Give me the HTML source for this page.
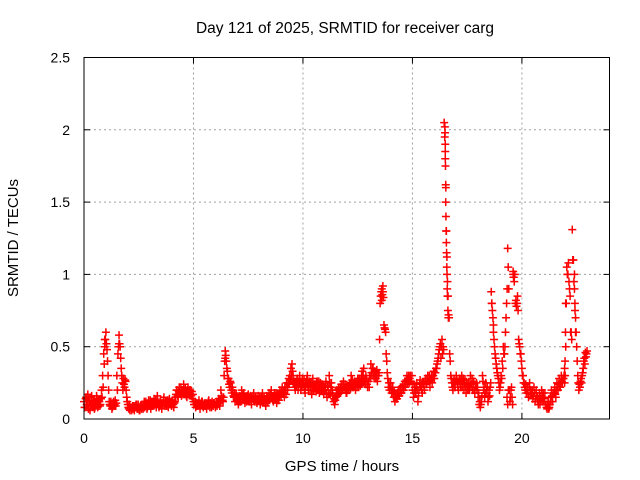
<!DOCTYPE html>
<html><head><meta charset="utf-8"><style>
html,body{margin:0;padding:0;background:#fff;}
svg{display:block;font-family:"Liberation Sans",sans-serif;}
</style></head><body>
<svg id="chart" width="640" height="480" viewBox="0 0 640 480">
<rect width="640" height="480" fill="#fff"/>
<text x="345" y="33" font-size="15.5" text-anchor="middle">Day 121 of 2025, SRMTID for receiver carg</text>
<text x="342" y="471" font-size="15" text-anchor="middle">GPS time / hours</text>
<text transform="translate(18,238) rotate(-90)" font-size="15" text-anchor="middle">SRMTID / TECUs</text>
<g id="grid"></g><g id="marks"></g><g id="axes"></g>
</svg>
<script>
const xTicks = [0,5,10,15,20];
const yTicks = [0,0.5,1,1.5,2,2.5];
const yTickLabels = ["0","0.5","1","1.5","2","2.5"];
const baseStart = 0;
const baseStep = 0.05;
const baseValues = [
.12,.08,.15,.1,.07,.13,.1,.16,.09,.11,.08,.1,.14,.09,.12,.1,.2,.3,.45,.5,
.6,.48,.3,.12,.09,.1,.08,.12,.1,.09,.3,.45,.58,.5,.35,.25,.28,.22,.26,.15,
.1,.07,.06,.08,.07,.09,.06,.08,.1,.07,.08,.06,.09,.1,.07,.12,.09,.1,.08,.13,
.1,.07,.12,.09,.14,.1,.08,.16,.11,.09,.13,.07,.1,.15,.09,.12,.1,.08,.14,.1,
.09,.13,.08,.12,.17,.2,.15,.22,.18,.16,.2,.24,.17,.19,.15,.22,.18,.2,.16,.14,
.12,.1,.08,.11,.09,.13,.07,.1,.12,.08,.11,.09,.07,.1,.13,.08,.1,.12,.09,.11,
.08,.12,.1,.14,.09,.2,.15,.12,.3,.47,.4,.33,.28,.22,.25,.18,.2,.15,.12,.17,
.13,.1,.16,.12,.2,.14,.18,.11,.15,.13,.17,.12,.16,.1,.14,.18,.12,.15,.11,.16,
.13,.1,.15,.18,.12,.14,.09,.16,.12,.18,.14,.2,.16,.12,.18,.15,.11,.17,.13,.2,
.16,.22,.18,.15,.2,.25,.2,.28,.3,.35,.38,.3,.26,.2,.23,.28,.22,.3,.2,.25,
.22,.27,.18,.24,.3,.2,.25,.22,.17,.28,.2,.24,.19,.26,.22,.18,.25,.2,.23,.17,
.2,.26,.15,.22,.3,.18,.25,.2,.12,.1,.15,.2,.17,.22,.18,.24,.2,.26,.22,.2,
.18,.23,.2,.25,.3,.27,.22,.26,.2,.24,.28,.22,.27,.25,.33,.3,.26,.24,.28,.22,
.26,.3,.38,.3,.35,.28,.32,.3,.26,.3,.55,.85,.9,.88,.65,.62,.45,.32,.22,.2,
.25,.18,.22,.15,.12,.17,.14,.2,.16,.22,.18,.23,.2,.26,.24,.3,.28,.25,.3,.26,
.2,.15,.22,.18,.25,.12,.2,.27,.22,.18,.25,.2,.28,.24,.3,.26,.22,.28,.25,.3,
.28,.32,.35,.4,.45,.5,.42,.55,.5,2.05,1.8,1.3,.95,.72,.45,.3,.25,.2,.28,.22,
.3,.25,.2,.28,.22,.3,.25,.2,.27,.18,.22,.25,.2,.3,.24,.2,.26,.18,.22,.2,
.15,.1,.08,.12,.3,.2,.15,.25,.18,.12,.2,.22,.88,.75,.6,.5,.42,.35,.3,.25,
.22,.3,.4,.5,.45,.6,.8,1.18,.9,.12,.2,.15,1.0,.95,.8,.78,.85,.55,.5,.45,
.35,.3,.25,.2,.18,.22,.15,.25,.2,.18,.14,.22,.12,.2,.16,.1,.18,.13,.2,.15,
.12,.18,.1,.07,.12,.08,.15,.2,.12,.18,.22,.15,.25,.2,.28,.22,.3,.25,.28,.35,
.5,1.05,1.0,.95,.85,.6,1.31,1.1,.9,.7,.5,.3,.2,.22,.28,.3,.35,.42,.46,.45
];
const spreadValues = [
.08,.14,.1,.17,.12,.06,.15,.1,.13,.07,.12,.16,.08,.13,.09,.14,.15,.22,.38,.55,
.52,.4,.2,.1,.12,.07,.11,.09,.13,.11,.2,.5,.52,.42,.3,.2,.24,.27,.2,.12,
.08,.1,.08,.06,.09,.07,.09,.1,.07,.1,.06,.09,.07,.08,.1,.08,.12,.07,.11,.09,
.13,.09,.1,.12,.1,.13,.11,.12,.08,.12,.1,.11,.13,.1,.12,.09,.13,.11,.1,.12,
.12,.1,.11,.15,.2,.16,.19,.18,.22,.2,.17,.19,.21,.16,.2,.18,.2,.17,.19,.17,
.1,.12,.1,.09,.11,.1,.1,.12,.09,.1,.09,.11,.1,.12,.09,.11,.08,.1,.11,.1,
.1,.09,.12,.11,.13,.16,.13,.15,.4,.44,.35,.28,.24,.26,.2,.22,.16,.18,.15,.13,
.15,.13,.12,.15,.16,.17,.13,.14,.12,.16,.13,.15,.12,.14,.16,.13,.15,.12,.14,.13,
.15,.13,.12,.14,.15,.11,.14,.12,.15,.13,.17,.15,.13,.16,.14,.18,.15,.13,.16,.17,
.19,.18,.2,.22,.17,.22,.25,.24,.27,.3,.33,.25,.22,.25,.27,.2,.26,.24,.22,.28,
.25,.2,.23,.27,.22,.26,.2,.25,.23,.2,.24,.21,.25,.2,.26,.22,.2,.24,.19,.22,
.23,.18,.22,.17,.25,.22,.2,.16,.14,.13,.18,.16,.21,.18,.22,.2,.24,.21,.24,.18,
.22,.2,.24,.21,.25,.22,.25,.23,.24,.22,.25,.28,.23,.3,.28,.35,.28,.3,.24,.26,
.22,.28,.32,.35,.3,.33,.28,.34,.3,.32,.8,.88,.86,.84,.63,.6,.4,.28,.25,.22,
.2,.22,.18,.19,.15,.14,.18,.16,.2,.18,.22,.2,.24,.22,.27,.25,.3,.28,.26,.3,
.24,.18,.2,.22,.2,.16,.24,.22,.2,.25,.22,.26,.24,.28,.26,.3,.27,.3,.28,.33,
.32,.35,.38,.42,.48,.52,.5,.45,.48,1.95,1.6,1.12,.85,.7,.4,.28,.22,.25,.22,.26,
.27,.22,.26,.24,.27,.22,.28,.24,.22,.25,.2,.22,.25,.22,.28,.24,.2,.22,.25,.22,
.18,.12,.1,.16,.26,.22,.18,.2,.22,.15,.16,.25,.8,.7,.55,.45,.38,.32,.28,.2,
.25,.28,.35,.45,.5,.7,.9,1.05,.2,.15,.22,.1,.98,1.0,.82,.8,.75,.52,.45,.4,
.3,.25,.22,.24,.2,.18,.22,.2,.17,.2,.16,.18,.14,.16,.12,.14,.1,.16,.12,.18,
.14,.1,.08,.1,.07,.1,.12,.16,.18,.2,.17,.2,.22,.24,.22,.25,.26,.28,.3,.3,
.8,1.0,1.08,.9,.6,.55,1.1,.95,.75,.6,.4,.25,.24,.26,.25,.32,.4,.38,.43,.47
];
const extraHours = [16.48,16.49,16.5,16.5,16.51,16.52,16.52,16.53,16.54,16.55,16.56,16.57,16.58,16.59,16.6,16.62,16.64,
19.32,19.35,19.38,19.6,19.62,21.95,21.97,21.99,22.0,22.4,22.42,22.45,0.95,1.6,6.45,13.6,13.65,18.62,18.7];
const extraValues = [2.02,1.98,1.9,1.85,1.75,1.62,1.5,1.4,1.3,1.22,1.15,1.05,1.0,0.9,0.85,0.75,0.7,
0.15,0.1,0.2,1.02,0.98,0.25,0.4,0.6,0.8,1.0,0.8,0.6,0.55,0.52,0.42,0.82,0.92,0.8,0.65];

const L=84,R=609.5,T=57.5,B=419,XMAX=24,YMAX=2.5;
const xs=v=>L+(R-L)*v/XMAX, ys=v=>B-(B-T)*v/YMAX;
const NS="http://www.w3.org/2000/svg";
function mk(tag,attrs,parent){const e=document.createElementNS(NS,tag);for(const k in attrs)e.setAttribute(k,attrs[k]);parent.appendChild(e);return e;}
const grid=document.getElementById('grid'),marks=document.getElementById('marks'),axes=document.getElementById('axes');
xTicks.forEach(t=>{
  const x=xs(t);
  if(t>0){const g=mk('line',{x1:x,x2:x,y1:T,y2:B,stroke:'#a0a0a0','stroke-dasharray':'2,3'},grid);
  
  }
  mk('line',{x1:x,x2:x,y1:B,y2:B-6,stroke:'#000'},axes);
  mk('line',{x1:x,x2:x,y1:T,y2:T+6,stroke:'#000'},axes);
  const lb=mk('text',{x:x,y:443,'font-size':14,'text-anchor':'middle'},axes);lb.textContent=t;
  
  
});
yTicks.forEach((t,i)=>{
  const y=ys(t);
  if(t>0&&t<YMAX){const g=mk('line',{x1:L,x2:R,y1:y,y2:y,stroke:'#a0a0a0','stroke-dasharray':'2,3'},grid);
  
  }
  mk('line',{x1:L,x2:L+6,y1:y,y2:y,stroke:'#000'},axes);
  mk('line',{x1:R,x2:R-6,y1:y,y2:y,stroke:'#000'},axes);
  const lb=mk('text',{x:70,y:y+5,'font-size':14,'text-anchor':'end'},axes);lb.textContent=yTickLabels[i];
  
  
});
const fr=mk('rect',{x:L,y:T,width:R-L,height:B-T,fill:'none',stroke:'#000'},axes);


function plus(h,v){
  const x=xs(h),y=ys(v);
  const p=mk('path',{d:`M${x-4},${y}h8M${x},${y-4}v8`,stroke:'#f00','stroke-width':1.5,fill:'none'},marks);
  
  
}
baseValues.forEach((v,i)=>plus(baseStart+i*baseStep,v));
spreadValues.forEach((v,i)=>plus(baseStart+(i+0.5)*baseStep,v));
extraHours.forEach((h,i)=>plus(h,extraValues[i]));
</script>
</body></html>
